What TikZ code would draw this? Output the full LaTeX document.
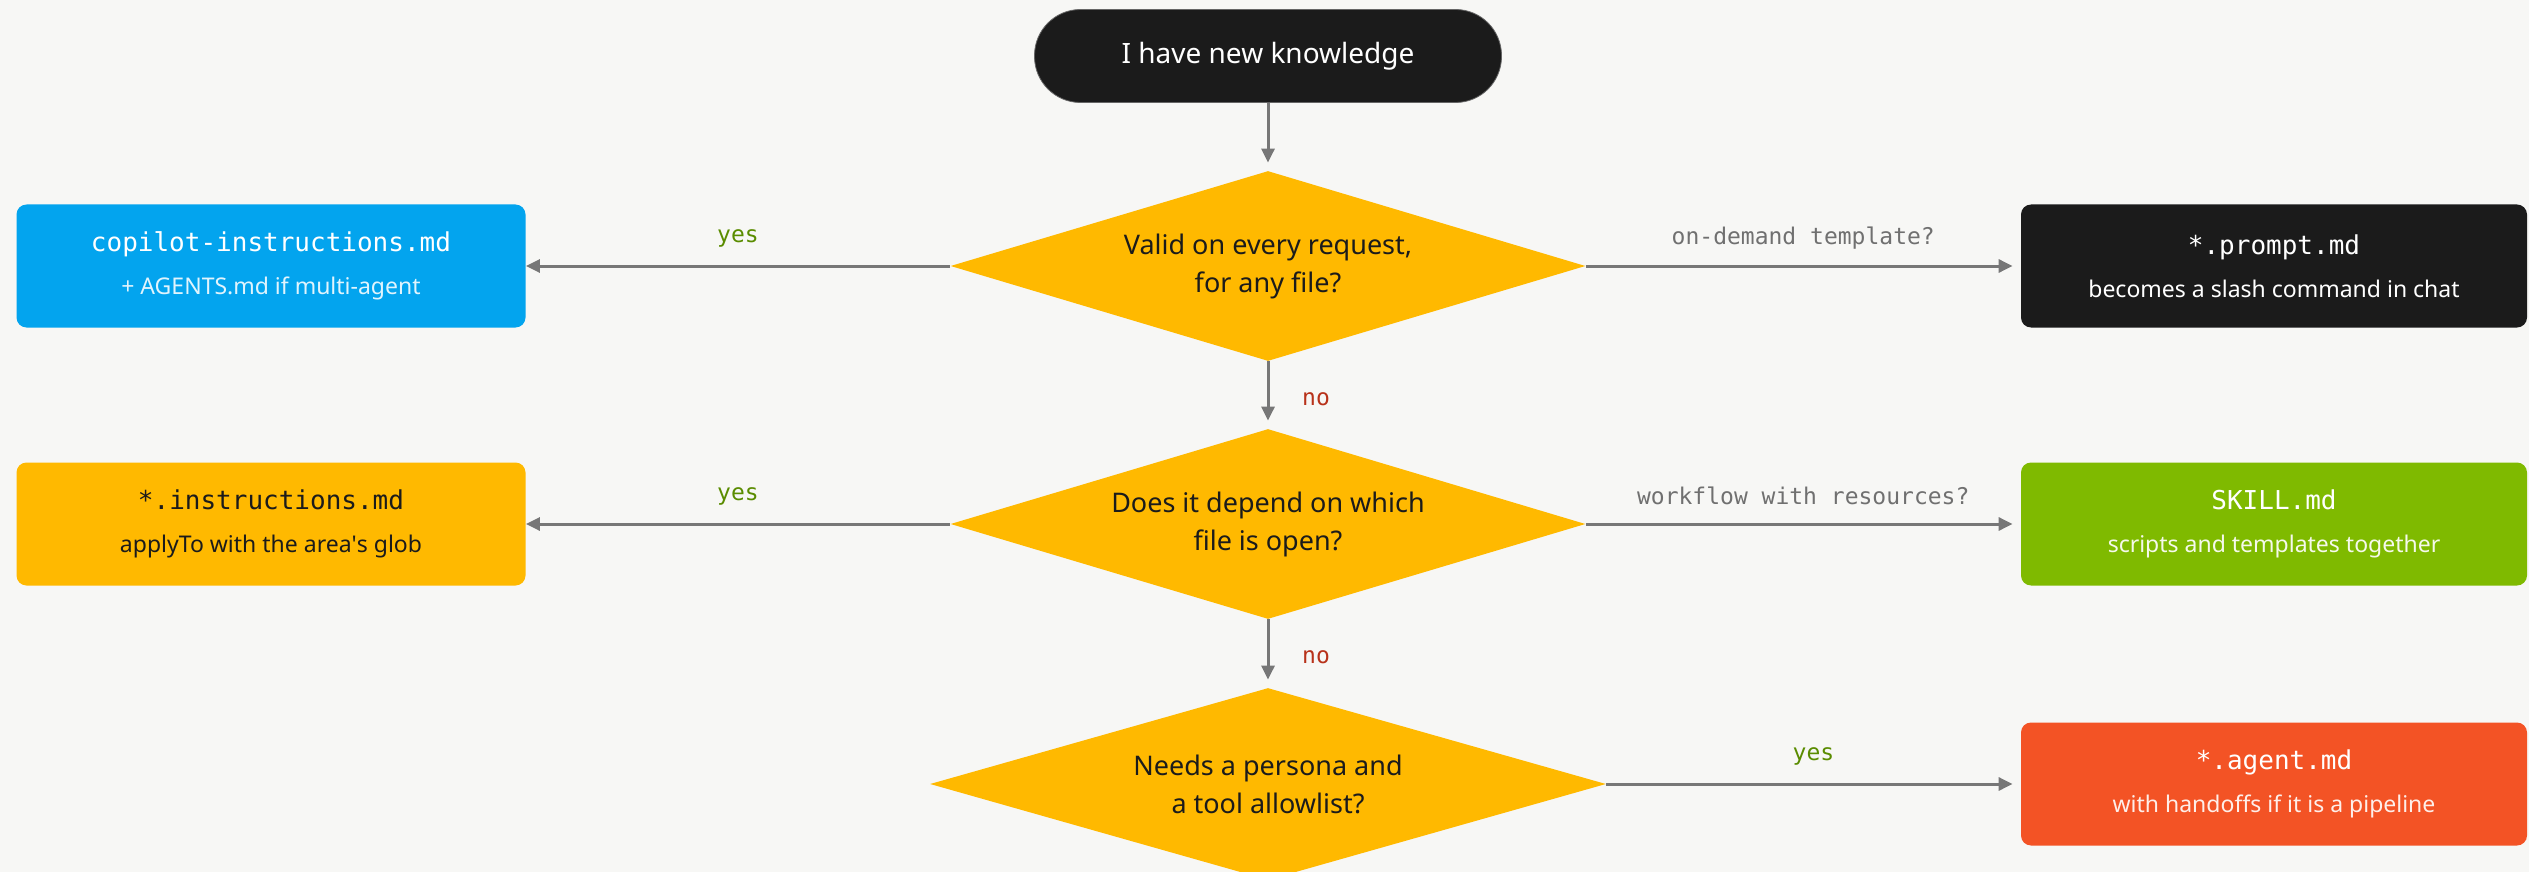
\documentclass[tikz,border=0pt]{standalone}
\usepackage{fontspec}
\setmainfont{Noto Sans}
\setmonofont{DejaVu Sans Mono}
\usetikzlibrary{shapes.geometric,arrows.meta}
\definecolor{bgcol}{HTML}{F7F7F5}
\definecolor{inkcol}{HTML}{1B1B1B}
\definecolor{ambercol}{HTML}{FFB900}
\definecolor{skycol}{HTML}{03A4EE}
\definecolor{leafcol}{HTML}{7FBA00}
\definecolor{flamecol}{HTML}{F35325}
\definecolor{wirecol}{HTML}{777777}
\definecolor{yescol}{HTML}{5A8C00}
\definecolor{nocol}{HTML}{B8321A}
\definecolor{askcol}{HTML}{707070}
\newcommand{\outname}[1]{{\ttfamily\fontsize{13}{21.5}\selectfont #1}}

\begin{document}
\begin{tikzpicture}[x=0.5pt, y=-0.5pt,
  start/.style={rectangle, rounded corners=23pt, fill=inkcol, draw=black!60,
    minimum width=233.5pt, minimum height=46.5pt, text=white,
    font=\fontsize{14}{17}\selectfont},
  question/.style={shape=diamond, aspect=3.3, fill=ambercol, inner sep=0pt, align=center,
    minimum width=317.5pt, minimum height=95pt, text=inkcol,
    font=\fontsize{13.5}{19}\selectfont},
  outcome/.style={rectangle, rounded corners=5pt, minimum width=254.5pt,
    minimum height=61.5pt, align=center, text=white,
    font=\fontsize{11.5}{21.5}\selectfont},
  wire/.style={draw=wirecol, line width=1.5pt, -{Triangle[length=7pt,width=6.5pt]}},
  yeslabel/.style={midway, yshift=14pt, text=yescol,
    font=\ttfamily\fontsize{11.5}{14}\selectfont},
  asklabel/.style={yeslabel, text=askcol},
  nolabel/.style={midway, xshift=24pt, yshift=-2pt, text=nocol,
    font=\ttfamily\fontsize{11.5}{14}\selectfont}]

  \fill[bgcol] (0,0) rectangle (2529,872);
  \useasboundingbox (0,0) rectangle (2529,872);

  %% flow down the middle
  \node[start] (know) at (1268,56) {I have new knowledge};
  \node[question] (q1) at (1268,266) {Valid on every request,\\for any file?};
  \node[question] (q2) at (1268,524) {Does it depend on which\\file is open?};
  \node[question, aspect=3.5, minimum width=338pt, minimum height=96pt] (q3) at (1268,784)
    {Needs a persona and\\a tool allowlist?};

  %% left outcomes
  \node[outcome, fill=skycol] (copilot) at (271,266)
    {\outname{copilot-instructions.md}\\\textcolor{white!88!skycol}{+ AGENTS.md if multi-agent}};
  \node[outcome, fill=ambercol, text=inkcol] (instr) at (271,524)
    {\outname{*.instructions.md}\\applyTo with the area\textquotesingle s glob};

  %% right outcomes
  \node[outcome, fill=inkcol, minimum width=253pt] (prompt) at (2274,266)
    {\outname{*.prompt.md}\\\textcolor{white!85}{becomes a slash command in chat}};
  \node[outcome, fill=leafcol, minimum width=253pt] (skill) at (2274,524)
    {\outname{SKILL.md}\\\textcolor{white!92!leafcol}{scripts and templates together}};
  \node[outcome, fill=flamecol, minimum width=253pt] (agent) at (2274,784)
    {\outname{*.agent.md}\\\textcolor{white!90!flamecol}{with handoffs if it is a pipeline}};

  %% connectors
  \draw[wire, shorten >=4pt] (know) -- (q1);
  \draw[wire, shorten >=4pt] (q1) -- node[nolabel]{no} (q2);
  \draw[wire, shorten >=4pt] (q2) -- node[nolabel]{no} (q3);

  \draw[wire] (q1.west) -- node[yeslabel]{yes} (copilot);
  \draw[wire] (q2.west) -- node[yeslabel]{yes} (instr);

  \draw[wire, shorten >=4pt] (q1.east) -- node[asklabel]{on-demand template?} (prompt);
  \draw[wire, shorten >=4pt] (q2.east) -- node[asklabel]{workflow with resources?} (skill);
  \draw[wire, shorten >=4pt] (q3.east) -- node[yeslabel]{yes} (agent);

\end{tikzpicture}
\end{document}
